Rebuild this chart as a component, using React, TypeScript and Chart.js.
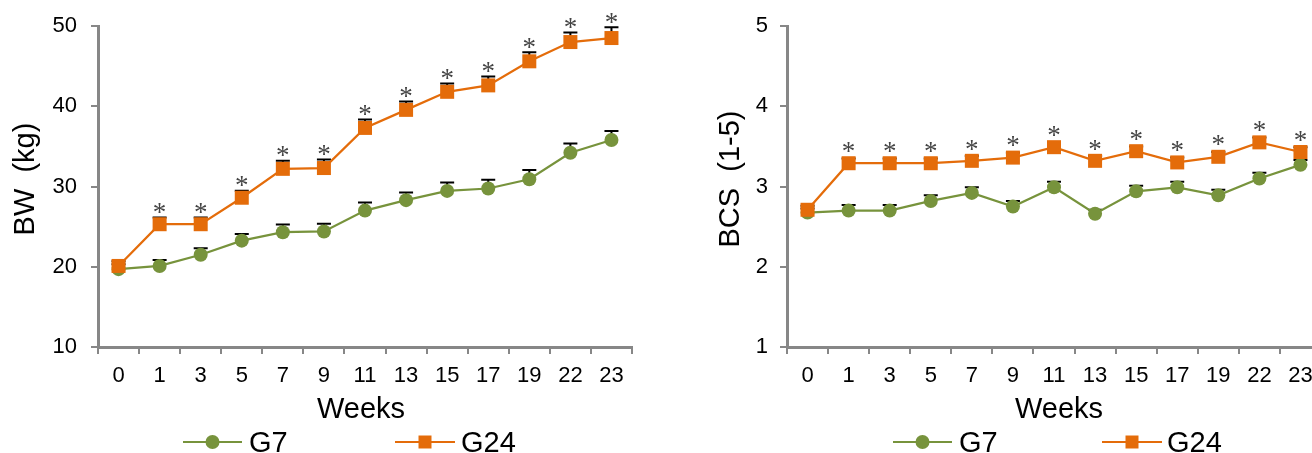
import React, { useEffect, useRef } from 'react';
import { Chart, registerables } from 'chart.js';

Chart.register(...registerables);

// ---------- data ----------
const weeks = ['0', '1', '3', '5', '7', '9', '11', '13', '15', '17', '19', '22', '23'];
const seriesNames = ['G7', 'G24'];

const bwG7 = [19.7, 20.1, 21.5, 23.25, 24.3, 24.4, 27.0, 28.3, 29.45, 29.75, 30.9, 34.2, 35.8];
const bwG7Err = [0.6, 0.75, 0.8, 0.83, 0.96, 0.96, 1.0, 0.96, 1.04, 1.08, 1.16, 1.16, 1.12];
const bwG24 = [20.1, 25.3, 25.3, 28.6, 32.2, 32.3, 37.3, 39.55, 41.8, 42.6, 45.6, 48.0, 48.5];
const bwG24Err = [0.6, 0.83, 0.85, 0.87, 1.0, 1.05, 1.04, 1.04, 1.04, 1.12, 1.12, 1.2, 1.33];
const bwSig = [false, true, true, true, true, true, true, true, true, true, true, true, true];
const bwTicks = [10, 20, 30, 40, 50];

const bcsG7 = [2.675, 2.7, 2.7, 2.82, 2.92, 2.75, 2.99, 2.66, 2.94, 2.99, 2.89, 3.1, 3.27];
const bcsG7Err = [0.05, 0.07, 0.07, 0.07, 0.07, 0.07, 0.07, 0.05, 0.07, 0.07, 0.07, 0.07, 0.06];
const bcsG24 = [2.71, 3.29, 3.29, 3.29, 3.32, 3.36, 3.49, 3.32, 3.44, 3.3, 3.37, 3.55, 3.43];
const bcsG24Err = [0.05, 0.06, 0.06, 0.06, 0.06, 0.06, 0.06, 0.06, 0.06, 0.06, 0.06, 0.06, 0.06];
const bcsSig = [false, true, true, true, true, true, true, true, true, true, true, true, true];
const bcsTicks = [1, 2, 3, 4, 5];

// ---------- styles ----------
const GREEN = '#77933C';
const ORANGE = '#E46C0A';
const AXIS = '#878787';
const FONT = '"Liberation Sans", Arial, sans-serif';

const errorStarPlugin = {
  id: 'errStars',
  beforeDatasetsDraw(chart: any, _a: any, opts: any) {
    const ctx = chart.ctx;
    const ys = chart.scales.y;
    ctx.save();
    ctx.strokeStyle = '#000';
    ctx.lineWidth = 2;
    chart.data.datasets.forEach((ds: any, i: number) => {
      const meta = chart.getDatasetMeta(i);
      const errs = opts.errors[i];
      meta.data.forEach((pt: any, j: number) => {
        const v = ds.data[j];
        const yc = ys.getPixelForValue(v);
        const yt = ys.getPixelForValue(v + errs[j]);
        ctx.beginPath();
        ctx.moveTo(pt.x, yc);
        ctx.lineTo(pt.x, yt);
        ctx.moveTo(pt.x - 7, yt);
        ctx.lineTo(pt.x + 7, yt);
        ctx.stroke();
      });
    });
    ctx.restore();
  },
  afterDatasetsDraw(chart: any, _a: any, opts: any) {
    const ctx = chart.ctx;
    const ys = chart.scales.y;
    const idx = opts.starDataset;
    const ds = chart.data.datasets[idx];
    const meta = chart.getDatasetMeta(idx);
    ctx.save();
    ctx.font = '27px "Liberation Serif", "Times New Roman", serif';
    ctx.fillStyle = '#444444';
    ctx.textAlign = 'center';
    ctx.textBaseline = 'alphabetic';
    const m = ctx.measureText('*');
    const asc = m.actualBoundingBoxAscent;
    const desc = m.actualBoundingBoxDescent;
    meta.data.forEach((pt: any, j: number) => {
      if (!opts.sig[j]) return;
      const yt = ys.getPixelForValue(ds.data[j] + opts.errors[idx][j]);
      const cy = yt - opts.starGap;
      ctx.fillText('*', pt.x, cy + (asc - desc) / 2);
    });
    ctx.restore();
  },
};

const decorPlugin = {
  id: 'decor',
  afterDraw(chart: any, _a: any, opts: any) {
    const ctx = chart.ctx;
    ctx.save();
    ctx.fillStyle = '#000';
    // x title
    ctx.font = `29px ${FONT}`;
    ctx.textAlign = 'center';
    ctx.textBaseline = 'alphabetic';
    ctx.fillText(opts.xTitle, opts.xTitleX, opts.xTitleY);
    // y title
    ctx.save();
    ctx.translate(opts.yTitleX, opts.yTitleY);
    ctx.rotate(-Math.PI / 2);
    ctx.fillText(opts.yTitle, 0, 0);
    ctx.restore();
    // legend
    opts.legend.forEach((it: any, i: number) => {
      const ds = chart.data.datasets[i];
      ctx.strokeStyle = ds.borderColor;
      ctx.fillStyle = ds.borderColor;
      ctx.lineWidth = 2;
      ctx.beginPath();
      ctx.moveTo(it.x0, opts.legendLineY);
      ctx.lineTo(it.x1, opts.legendLineY);
      ctx.stroke();
      ctx.beginPath();
      if (ds.pointStyle === 'rect') {
        ctx.rect(it.mx - 6.5, opts.legendLineY - 6.5, 13, 13);
      } else {
        ctx.arc(it.mx, opts.legendLineY, 7, 0, Math.PI * 2);
      }
      ctx.fill();
      ctx.fillStyle = '#000';
      ctx.textAlign = 'left';
      ctx.fillText(ds.label, it.tx, opts.legendTextY);
    });
    ctx.restore();
  },
};

function makeConfig(p: any) {
  return {
    type: 'line',
    data: {
      labels: weeks,
      datasets: [
        {
          label: seriesNames[0],
          data: p.g7,
          borderColor: GREEN,
          backgroundColor: GREEN,
          pointBackgroundColor: GREEN,
          pointBorderColor: GREEN,
          pointBorderWidth: 0,
          pointStyle: 'circle',
          pointRadius: 7,
          borderWidth: 2.25,
          order: 1,
        },
        {
          label: seriesNames[1],
          data: p.g24,
          borderColor: ORANGE,
          backgroundColor: ORANGE,
          pointBackgroundColor: ORANGE,
          pointBorderColor: ORANGE,
          pointBorderWidth: 0,
          pointStyle: 'rect',
          pointRadius: 9.9,
          borderWidth: 2.25,
          order: 0,
        },
      ],
    },
    options: {
      responsive: false,
      animation: false,
      events: [],
      layout: { padding: { left: 0, top: 26, right: 68, bottom: 0 } },
      scales: {
        x: {
          type: 'category',
          offset: true,
          grid: { offset: true, drawOnChartArea: false, drawTicks: true, tickLength: 7, color: AXIS, lineWidth: 2 },
          border: { display: true, color: AXIS, width: 3 },
          ticks: { color: '#000', font: { family: FONT, size: 22 }, padding: 9, maxRotation: 0, autoSkip: false },
          afterFit(s: any) {
            s.height = 106;
            s.paddingLeft = 0; s.paddingRight = 0; s.paddingTop = 0; s.paddingBottom = 0;
          },
        },
        y: {
          min: p.ticks[0],
          max: p.ticks[p.ticks.length - 1],
          afterBuildTicks(s: any) { s.ticks = p.ticks.map((v: number) => ({ value: v })); },
          grid: { drawOnChartArea: false, drawTicks: true, tickLength: 7, color: AXIS, lineWidth: 2 },
          border: { display: true, color: AXIS, width: 3 },
          ticks: { color: '#000', font: { family: FONT, size: 22 }, padding: p.yTickPad },
          afterFit(s: any) {
            s.width = 98;
            s.paddingLeft = 0; s.paddingRight = 0; s.paddingTop = 0; s.paddingBottom = 0;
          },
        },
      },
      plugins: {
        legend: { display: false },
        tooltip: { enabled: false },
        errStars: { errors: [p.g7Err, p.g24Err], sig: p.sig, starDataset: 1, starGap: p.starGap },
        decor: {
          xTitle: 'Weeks', xTitleX: p.xTitleX, xTitleY: 418,
          yTitle: p.yTitle, yTitleX: p.yTitleX, yTitleY: 179,
          legendLineY: 442, legendTextY: 451.5,
          legend: p.legend,
        },
      },
    },
    plugins: [errorStarPlugin, decorPlugin],
  };
}

function Panel(props: { cfg: any; left: number }) {
  const ref = useRef<HTMLCanvasElement | null>(null);
  useEffect(() => {
    if (!ref.current) return;
    const chart = new Chart(ref.current, makeConfig(props.cfg) as any);
    return () => chart.destroy();
  }, []);
  return (
    <canvas
      ref={ref}
      width={700}
      height={453}
      style={{ position: 'absolute', left: props.left, top: 0, width: 700, height: 453, display: 'block' }}
    />
  );
}

const bwPanel = {
  g7: bwG7, g7Err: bwG7Err, g24: bwG24, g24Err: bwG24Err, sig: bwSig, ticks: bwTicks,
  yTitle: 'BW  (kg)', yTitleX: 33.5, xTitleX: 361, yTickPad: 14, starGap: 9,
  legend: [
    { x0: 183, x1: 242, mx: 212.5, tx: 249 },
    { x0: 395, x1: 455, mx: 425, tx: 461 },
  ],
};

const bcsPanel = {
  g7: bcsG7, g7Err: bcsG7Err, g24: bcsG24, g24Err: bcsG24Err, sig: bcsSig, ticks: bcsTicks,
  yTitle: 'BCS  (1-5)', yTitleX: 50, xTitleX: 370, yTickPad: 12, starGap: 11,
  legend: [
    { x0: 204, x1: 263, mx: 233.5, tx: 270 },
    { x0: 413, x1: 473, mx: 443, tx: 478 },
  ],
};

export default function App() {
  return (
    <div style={{ position: 'absolute', left: 0, top: 0, width: 1312, height: 453, overflow: 'hidden', background: '#fff' }}>
      <Panel cfg={bwPanel} left={0} />
      <Panel cfg={bcsPanel} left={689} />
    </div>
  );
}
